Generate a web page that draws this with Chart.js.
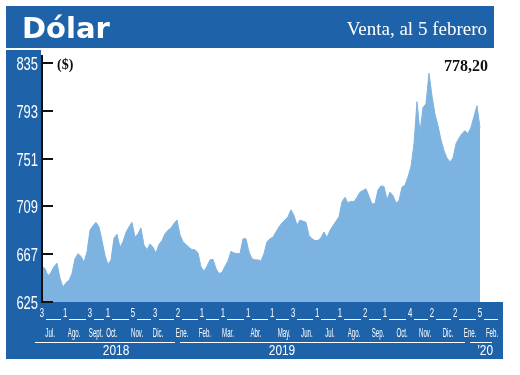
<!DOCTYPE html>
<html>
<head>
<meta charset="utf-8">
<script src="https://cdn.jsdelivr.net/npm/chart.js@4.4.1/dist/chart.umd.min.js"></script>
<style>
  html, body { margin: 0; padding: 0; background: #fff; }
  canvas { display: block; }
</style>
</head>
<body>
<canvas id="chart" width="520" height="375"></canvas>
<script>
// Dólar, venta ($) - one sample every ~3 trading days, 3 Jul 2018 -> 5 Feb 2020
const values = [
  656, 654.5, 648, 651, 656, 659, 646, 638, 642, 644,
  650, 663, 667.5, 665, 660, 669, 688, 692, 695, 691,
  679, 666, 658, 662, 681, 684.5, 673, 678, 686, 691,
  695, 682, 685, 690, 675, 671, 676, 673, 668, 675.5,
  679, 685, 688, 690, 694, 697, 684, 678, 675.5, 673,
  671, 671, 668, 656, 652, 656.5, 662, 662.5, 654.5, 650,
  651, 656.5, 661, 669.5, 668, 667.5, 667.5, 680.5, 680.5, 669,
  663, 662, 662, 661, 667.5, 678, 680.5, 682, 686.5, 691,
  694.5, 697, 700, 706, 701, 692.5, 697, 696, 695, 683.5,
  680.5, 679, 679, 681.5, 686.5, 681.5, 688, 692, 696, 700,
  713, 717, 712, 713.5, 713, 717, 721.5, 723, 724.5, 718,
  711, 711.5, 723.5, 727, 726.5, 715, 721.5, 718.5, 712, 714,
  726, 727.5, 735, 744, 764, 801, 774, 796, 799, 826,
  806, 790, 780, 767.5, 758, 751.5, 748, 751.5, 764, 769,
  773, 775.5, 773, 778.5, 788, 797.5, 778.2
];

// first trading day of each month (x axis, in sample units) and its day number
const dayTickPos = [0, 7.7, 16, 22, 30.3, 37.7, 45.3, 53.3, 60.3, 68.7,
  76.7, 83.7, 91.7, 99.3, 107.7, 114.3, 122.7, 130, 137.7, 146];
const dayTickLabels = ['3', '1', '3', '1', '5', '3', '2', '1', '1', '1',
  '1', '3', '1', '1', '2', '1', '4', '2', '2', '5'];

const monthPos = [2.7, 10.7, 18, 23.3, 31.7, 38.7, 46.7, 54.3, 62, 71.3,
  80.7, 88.3, 96, 104, 112, 120, 127.7, 135.3, 142.7, 150];
const monthNames = ['Jul.', 'Ago.', 'Sept.', 'Oct.', 'Nov.', 'Dic.', 'Ene.', 'Feb.', 'Mar.', 'Abr.',
  'May.', 'Jun.', 'Jul.', 'Ago.', 'Sep.', 'Oct.', 'Nov.', 'Dic.', 'Ene.', 'Feb.'];

const yearPos = [24.7, 80, 147.7];
const yearLabels = ['2018', '2019', '\u201920'];
const yearStart = [-2.3, 46, 142.7];
const yearEnd = [44.3, 141, 150];

const yTicks = [625, 667, 709, 751, 793, 835];

const BLUE = '#1e63a9';
const FILL = '#7db3e0';
const SANS = "'Liberation Sans', Arial, sans-serif";
const X_MAX = 153.67;

const fixedTicks = (list) => (scale) => { scale.ticks = list.map(v => ({ value: v })); };

// the original uses a very condensed face, so labels are squeezed horizontally
function squeezed(ctx, text, x, y, sx, align) {
  ctx.save();
  ctx.translate(x, y);
  ctx.scale(sx, 1);
  ctx.textAlign = align;
  ctx.fillText(text, 0, 0);
  ctx.restore();
}

function drawTickLabels(ctx, scale, labels, font, sx, yOf, xOf, align) {
  ctx.font = font;
  scale.ticks.forEach((t, i) => {
    const p = scale.getPixelForValue(t.value);
    squeezed(ctx, labels[i], xOf(p), yOf(p), sx, align);
  });
}

const framePlugin = {
  id: 'frame',
  beforeDraw(chart) {
    const ctx = chart.ctx;
    const { left, bottom } = chart.chartArea;
    ctx.save();
    ctx.fillStyle = BLUE;
    ctx.fillRect(6, 6, 488, 42);                    // title bar
    ctx.fillRect(6, 50, left - 7, bottom - 50);     // y axis column
    ctx.fillRect(6, bottom, 497, 359 - bottom);     // x axis band
    ctx.restore();
  },
  afterDraw(chart) {
    const ctx = chart.ctx;
    const { x, xm, xy, y } = chart.scales;

    ctx.save();
    ctx.fillStyle = '#fff';
    ctx.textBaseline = 'alphabetic';
    ctx.font = "bold 29px 'DejaVu Sans', sans-serif";
    ctx.textAlign = 'left';
    ctx.fillText('Dólar', 22, 38);
    ctx.font = "19px 'Liberation Serif', serif";
    ctx.textAlign = 'right';
    ctx.fillText('Venta, al 5 febrero', 487, 35);

    // axis labels
    ctx.textBaseline = 'middle';
    drawTickLabels(ctx, y, yTicks.map(String), '18px ' + SANS, 0.72,
      p => p + 2, () => 38, 'right');
    drawTickLabels(ctx, x, dayTickLabels, '13px ' + SANS, 0.6,
      () => x.top + 11, p => p, 'center');
    drawTickLabels(ctx, xm, monthNames, '13px ' + SANS, 0.47,
      () => xm.top + 11, p => p, 'center');
    drawTickLabels(ctx, xy, yearLabels, '14px ' + SANS, 0.85,
      () => xy.top + 11, p => p, 'center');

    ctx.textBaseline = 'alphabetic';
    ctx.fillStyle = '#111';
    ctx.font = "bold 14px 'Liberation Serif', serif";
    ctx.textAlign = 'left';
    ctx.fillText('($)', 57, 69);
    const last = values[values.length - 1];
    ctx.font = "bold 16px 'Liberation Serif', serif";
    ctx.textAlign = 'right';
    ctx.fillText(last.toFixed(2).replace('.', ','), 488, 71);

    // underlines between the month-start numbers and under the years
    ctx.strokeStyle = '#fff';
    ctx.lineWidth = 1;
    ctx.beginPath();
    const ends = dayTickPos.map(v => x.getPixelForValue(v)).concat([502]);
    for (let i = 0; i < ends.length - 1; i++) {
      ctx.moveTo(Math.round(ends[i] + 4), 319.5);
      ctx.lineTo(Math.round(ends[i + 1] - 4), 319.5);
    }
    for (let i = 0; i < yearStart.length; i++) {
      ctx.moveTo(Math.round(x.getPixelForValue(yearStart[i])), 342.5);
      ctx.lineTo(Math.round(x.getPixelForValue(yearEnd[i])), 342.5);
    }
    ctx.stroke();
    ctx.restore();

    // value axis line and short tick marks inside the plot, drawn last
    ctx.save();
    ctx.strokeStyle = '#111';
    ctx.lineWidth = 2;
    ctx.beginPath();
    ctx.moveTo(y.right, y.top - 8);
    ctx.lineTo(y.right, y.bottom + 1);
    y.ticks.forEach(t => {
      const p = Math.round(y.getPixelForValue(t.value));
      ctx.moveTo(y.right, p);
      ctx.lineTo(y.right + 11, p);
    });
    ctx.stroke();
    ctx.restore();
  }
};

const bottomAxis = (ticks, height) => ({
  type: 'linear',
  position: 'bottom',
  min: 0,
  max: X_MAX,
  afterBuildTicks: fixedTicks(ticks),
  afterFit: (s) => { s.height = height; },
  grid: { display: false, drawTicks: false },
  border: { display: false },
  ticks: { display: false, autoSkip: false }
});

new Chart(document.getElementById('chart'), {
  type: 'line',
  data: {
    datasets: [{
      data: values.map((v, i) => ({ x: i, y: v })),
      xAxisID: 'x',
      yAxisID: 'y',
      fill: 'start',
      backgroundColor: FILL,
      borderColor: FILL,
      borderWidth: 1,
      pointRadius: 0,
      tension: 0
    }]
  },
  options: {
    responsive: false,
    animation: false,
    devicePixelRatio: 1,
    layout: { padding: { left: 6, right: 17, top: 63, bottom: 16 } },
    plugins: {
      legend: { display: false },
      tooltip: { enabled: false },
      title: { display: false }
    },
    scales: {
      x: bottomAxis(dayTickPos, 20),
      xm: bottomAxis(monthPos, 18),
      xy: bottomAxis(yearPos, 19),
      y: {
        type: 'linear',
        position: 'left',
        min: 625,
        max: 835,
        afterBuildTicks: fixedTicks(yTicks),
        afterFit: (s) => { s.width = 36; },
        grid: { display: false, drawTicks: false },
        border: { display: false },
        ticks: { display: false, autoSkip: false }
      }
    }
  },
  plugins: [framePlugin]
});
</script>
</body>
</html>
